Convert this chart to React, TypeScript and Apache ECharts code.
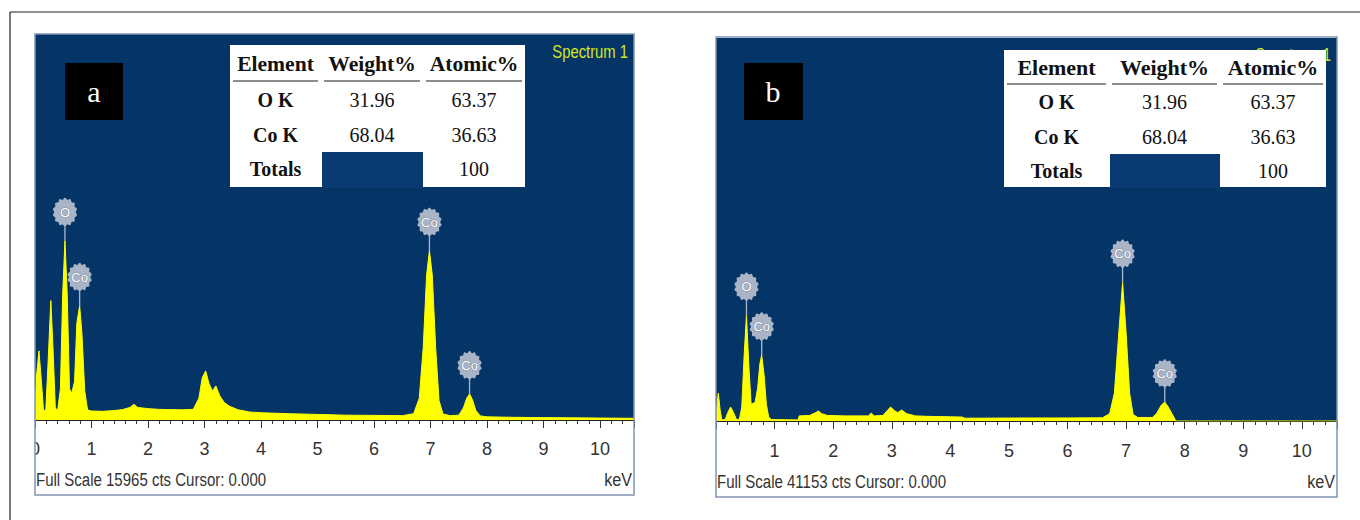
import React, { useEffect, useRef } from 'react';
import * as echarts from 'echarts';

// ---------------- DATA ----------------
const energyA = [0.0, 0.03, 0.07, 0.11, 0.15, 0.19, 0.23, 0.28, 0.32, 0.36, 0.4, 0.45, 0.49, 0.53, 0.57, 0.61, 0.65, 0.7, 0.74, 0.79, 0.83, 0.88, 0.93, 1.0, 1.2, 1.4, 1.55, 1.68, 1.75, 1.82, 2.0, 2.2, 2.4, 2.6, 2.8, 2.9, 2.96, 3.02, 3.08, 3.14, 3.2, 3.27, 3.35, 3.45, 3.6, 3.8, 4.0, 4.5, 5.0, 5.5, 6.0, 6.5, 6.7, 6.8, 6.87, 6.93, 6.98, 7.03, 7.09, 7.15, 7.22, 7.35, 7.5, 7.58, 7.64, 7.69, 7.74, 7.8, 7.88, 8.0, 8.5, 9.0, 9.5, 10.0, 10.6];
const countsA = [400, 1900, 2860, 1700, 420, 380, 2300, 4940, 2900, 500, 380, 1300, 5200, 7420, 5200, 1300, 1100, 1600, 4000, 4730, 3600, 1200, 420, 370, 360, 390, 430, 520, 650, 520, 470, 440, 430, 420, 440, 900, 1750, 2030, 1500, 1200, 1410, 1000, 720, 560, 420, 330, 300, 260, 230, 200, 190, 180, 260, 900, 3000, 6000, 7010, 6000, 3000, 800, 250, 180, 200, 500, 900, 1080, 850, 400, 170, 130, 110, 100, 90, 80, 70];

const energyB = [0.0, 0.02, 0.04, 0.07, 0.1, 0.16, 0.2, 0.25, 0.3, 0.35, 0.4, 0.44, 0.48, 0.52, 0.56, 0.6, 0.64, 0.67, 0.71, 0.75, 0.78, 0.82, 0.86, 0.9, 0.95, 1.4, 1.42, 1.6, 1.7, 1.75, 1.8, 1.9, 2.2, 2.6, 2.65, 2.7, 2.85, 2.92, 2.98, 3.05, 3.1, 3.17, 3.25, 3.4, 3.6, 4.0, 4.2, 4.25, 5.0, 6.0, 6.6, 6.72, 6.8, 6.87, 6.94, 7.0, 7.06, 7.12, 7.2, 7.45, 7.52, 7.6, 7.66, 7.72, 7.8, 7.85, 10.6];
const countsB = [0, 2000, 3000, 1200, 100, 200, 900, 1500, 900, 150, 200, 1500, 7000, 11360, 6000, 1800, 1900, 2100, 3500, 6200, 7080, 5000, 1800, 400, 150, 120, 550, 600, 900, 1070, 800, 600, 550, 550, 850, 550, 600, 1100, 1500, 1100, 900, 1180, 800, 550, 500, 450, 420, 300, 320, 330, 350, 800, 3000, 9000, 14900, 9500, 3000, 700, 380, 380, 800, 1700, 2040, 1500, 600, 0, 0];

const peakNamesA = ['O', 'Co', 'Co', 'Co'];
const peakEnergiesA = [0.53, 0.79, 6.98, 7.69];
const peakNamesB = ['O', 'Co', 'Co', 'Co'];
const peakEnergiesB = [0.52, 0.78, 6.94, 7.66];

const fullScaleA = 15965;
const fullScaleB = 41153;
const energyMax = 10.6;

const tableHeaders = ['Element', 'Weight%', 'Atomic%'];
const tableRows = [
  ['O K', '31.96', '63.37'],
  ['Co K', '68.04', '36.63'],
  ['Totals', '', '100'],
];
const panelLetters = ['a', 'b'];
const spectrumName = 'Spectrum 1';
const unitLabel = 'keV';

// ---------------- STYLE ----------------
const BLUE = '#053467';
const YELLOW = '#ffff00';
const BUBBLE = '#a9b5c7';
const SERIF = '"Liberation Serif", "Times New Roman", serif';
const SANS = '"Liberation Sans", Arial, sans-serif';

function bubblePath(): string {
  const n = 72;
  let d = '';
  for (let i = 0; i <= n; i++) {
    const t = (i / n) * 2 * Math.PI;
    const r = 0.93 + 0.07 * Math.cos(14 * t);
    const x = 11 + 11 * r * Math.sin(t);
    const y = 13.5 - 13.5 * r * Math.cos(t);
    d += (i ? 'L' : 'M') + x.toFixed(2) + ',' + y.toFixed(2);
  }
  d += 'Z M10.4,26 L11.6,26 L11.6,40 L10.4,40 Z';
  return 'path://' + d;
}

function countAt(es: number[], cs: number[], e: number): number {
  const i = es.indexOf(e);
  return i >= 0 ? cs[i] : 0;
}

function pairs(es: number[], cs: number[]) {
  return es.map((e, i) => [e, cs[i]]);
}

function text(x: number, y: number, s: string, o: any = {}) {
  return {
    type: 'text',
    x,
    y,
    scaleX: o.sx ?? 1,
    z: o.z ?? 50,
    style: {
      text: s,
      x: 0,
      y: 0,
      fill: o.fill ?? '#111',
      fontSize: o.size ?? 20,
      fontFamily: o.family ?? SERIF,
      fontWeight: o.weight ?? 'normal',
      textAlign: o.align ?? 'center',
      align: o.align ?? 'center',
      textVerticalAlign: 'middle',
      verticalAlign: 'middle',
    },
  };
}

function rect(x: number, y: number, w: number, h: number, fill: string, z = 40) {
  return {
    type: 'rect',
    z,
    shape: { x, y, width: w, height: h },
    style: { fill },
  };
}

function table(left: number, top: number, right: number, bottom: number, cols: number[], headerY: number, lineY: number, rowYs: number[], headSx: number) {
  const els: any[] = [];
  els.push(rect(left, top, right - left, bottom - top, '#ffffff', 40));
  els.push(rect(cols[1] + 1, rowYs[2] - 17, cols[2] - cols[1] - 1, bottom - rowYs[2] + 18, '#093a72', 41));
  const edges = [left, cols[1], cols[2], right];
  for (let c = 0; c < 3; c++) {
    els.push(rect(edges[c] + 3, lineY, edges[c + 1] - edges[c] - 6, 2, '#8c8c8c', 42));
    const cx = (edges[c] + edges[c + 1]) / 2;
    els.push(text(cx, headerY, tableHeaders[c], { size: 20, weight: 'bold', sx: headSx }));
  }
  tableRows.forEach((row, r) => {
    row.forEach((cell, c) => {
      if (!cell) return;
      const cx = (edges[c] + edges[c + 1]) / 2;
      els.push(text(cx, rowYs[r], cell, { size: 20, weight: c === 0 ? 'bold' : 'normal' }));
    });
  });
  return els;
}

function axisCommon(gridIndex: number, hideZero: boolean, margin: number) {
  return {
    type: 'value',
    gridIndex,
    min: 0,
    max: energyMax,
    interval: 1,
    position: 'bottom',
    axisLine: { show: true, onZero: false, lineStyle: { color: '#222', width: 1 } },
    axisTick: { show: true, length: 8, lineStyle: { color: '#333', width: 1 } },
    minorTick: { show: true, splitNumber: 5, length: 4, lineStyle: { color: '#333', width: 1 } },
    splitLine: { show: false },
    minorSplitLine: { show: false },
    axisLabel: {
      margin,
      fontSize: 18,
      color: '#333',
      fontFamily: SANS,
      showMaxLabel: false,
      formatter: (v: number) => (Number.isInteger(v) && !(hideZero && v === 0) ? String(v) : ''),
    },
  };
}

function spectrumSeries(idx: number, es: number[], cs: number[], names: string[], peaks: number[]) {
  const sym = bubblePath();
  const size = [24, 43];
  const off = [0, -21.5];
  return {
    type: 'line',
    xAxisIndex: idx,
    yAxisIndex: idx,
    data: pairs(es, cs),
    showSymbol: false,
    symbol: 'none',
    smooth: false,
    lineStyle: { color: YELLOW, width: 1 },
    areaStyle: { color: YELLOW, opacity: 1 },
    markPoint: {
      symbol: sym,
      symbolSize: size,
      symbolOffset: off,
      itemStyle: { color: BUBBLE },
      label: {
        show: true,
        position: 'inside',
        offset: [0, -7],
        formatter: '{b}',
        color: '#ffffff',
        fontSize: 13,
        fontFamily: SANS,
        textBorderColor: '#7f8ca0',
        textBorderWidth: 1,
      },
      data: names.map((n, i) => ({
        name: n,
        coord: [peaks[i], countAt(es, cs, peaks[i])],
        symbol: sym,
        symbolSize: size,
        symbolOffset: off,
      })),
    },
  };
}

export default function App() {
  const ref = useRef<HTMLDivElement>(null);
  useEffect(() => {
    if (!ref.current) return;
    const chart = echarts.init(ref.current, undefined, { renderer: 'svg' });

    const graphic: any[] = [
      { type: 'line', z: 60, shape: { x1: 10, y1: 12, x2: 1360, y2: 12 }, style: { stroke: '#222', lineWidth: 1.2 } },
      { type: 'line', z: 60, shape: { x1: 10, y1: 12, x2: 10, y2: 520 }, style: { stroke: '#222', lineWidth: 1.2 } },
      rect(22, 434, 13, 28, '#ffffff', 90),
      { type: 'rect', z: 95, shape: { x: 35, y: 34, width: 599, height: 461 }, style: { fill: 'none', stroke: '#7f95b4', lineWidth: 1.5 } },
      { type: 'rect', z: 95, shape: { x: 716, y: 37, width: 621, height: 460 }, style: { fill: 'none', stroke: '#7f95b4', lineWidth: 1.5 } },
      rect(65, 63, 58, 57, '#000000', 45),
      text(94, 91, panelLetters[0], { fill: '#fff', size: 30, family: SERIF }),
      rect(744, 63, 59, 57, '#000000', 45),
      text(773, 91, panelLetters[1], { fill: '#fff', size: 30, family: SERIF }),
      text(628, 52, spectrumName, { fill: '#d2e61f', size: 19, family: SANS, align: 'right', z: 30, sx: 0.78 }),
      text(1331, 55, spectrumName, { fill: '#d2e61f', size: 19, family: SANS, align: 'right', z: 30, sx: 0.78 }),
      text(36, 480, 'Full Scale ' + fullScaleA + ' cts Cursor: 0.000', { fill: '#333', size: 19, family: SANS, align: 'left', sx: 0.79 }),
      text(632, 480, unitLabel, { fill: '#333', size: 19, family: SANS, align: 'right', sx: 0.85 }),
      text(717, 482, 'Full Scale ' + fullScaleB + ' cts Cursor: 0.000', { fill: '#333', size: 19, family: SANS, align: 'left', sx: 0.79 }),
      text(1335, 482, unitLabel, { fill: '#333', size: 19, family: SANS, align: 'right', sx: 0.85 }),
      ...table(230, 45, 525, 187, [230, 321, 423], 64, 80, [100, 135, 169], 1.08),
      ...table(1004, 50, 1326, 187, [1004, 1109, 1220], 68, 83, [102, 137, 171], 1.1),
    ];

    chart.setOption({
      animation: false,
      backgroundColor: '#ffffff',
      grid: [
        { left: 35, top: 34, width: 599, height: 386, show: true, backgroundColor: BLUE, borderWidth: 0 },
        { left: 716, top: 38, width: 621, height: 383, show: true, backgroundColor: BLUE, borderWidth: 0 },
      ],
      xAxis: [axisCommon(0, false, 20), axisCommon(1, true, 21)],
      yAxis: [
        { type: 'value', gridIndex: 0, min: 0, max: fullScaleA, show: false, splitLine: { show: false } },
        { type: 'value', gridIndex: 1, min: 0, max: fullScaleB, show: false, splitLine: { show: false } },
      ],
      series: [
        spectrumSeries(0, energyA, countsA, peakNamesA, peakEnergiesA),
        spectrumSeries(1, energyB, countsB, peakNamesB, peakEnergiesB),
      ],
      graphic,
    });
    return () => chart.dispose();
  }, []);
  return <div ref={ref} style={{ position: 'absolute', left: 0, top: 0, width: 1360, height: 520 }} />;
}
